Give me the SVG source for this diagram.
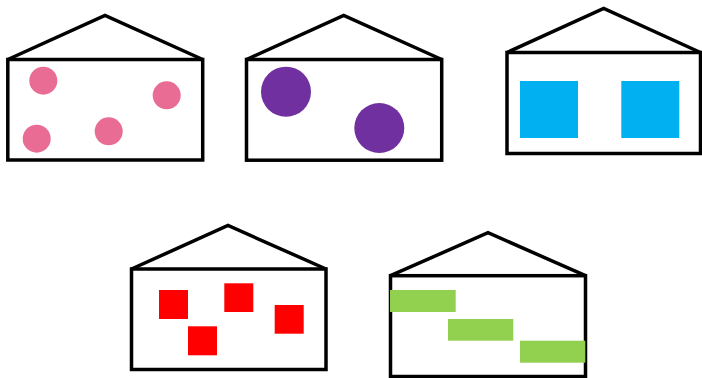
<svg xmlns="http://www.w3.org/2000/svg" width="702" height="378" viewBox="0 0 702 378">
<style>
.wall{fill:#fff;stroke:#000;stroke-width:3.5}
.roof{fill:none;stroke:#000;stroke-width:3.5;stroke-linejoin:miter}
.pink{fill:#E96C94}
.purple{fill:#7030A0}
.blue{fill:#00B0F0}
.red{fill:#FF0000}
.green{fill:#92D050}
</style>
<rect width="702" height="378" fill="#fff"/>
<g id="house1">
<polyline class="roof" points="7.8,59.5 105,15.5 202.7,59.5"/>
<rect class="wall" x="7.8" y="59.5" width="194.9" height="100.5"/>
<circle class="pink" cx="43.3" cy="80.7" r="14"/>
<circle class="pink" cx="166.7" cy="95.3" r="14"/>
<circle class="pink" cx="36.7" cy="138.7" r="14"/>
<circle class="pink" cx="108.7" cy="131.3" r="14"/>
</g>
<g id="house2">
<polyline class="roof" points="246.5,59.5 343.7,15.5 441.7,59.5"/>
<rect class="wall" x="246.5" y="59.5" width="195.2" height="100.7"/>
<circle class="purple" cx="286" cy="91.7" r="25"/>
<circle class="purple" cx="379.3" cy="128" r="25"/>
</g>
<g id="house3">
<polyline class="roof" points="507,52.5 603.7,8.5 700.5,52.5"/>
<rect class="wall" x="507" y="52.5" width="193.5" height="101"/>
<rect class="blue" x="520" y="81" width="58" height="57"/>
<rect class="blue" x="621.3" y="81" width="58" height="57"/>
</g>
<g id="house4">
<polyline class="roof" points="131.5,269 228,225.5 326,269"/>
<rect class="wall" x="131.5" y="269" width="194.5" height="100.5"/>
<rect class="red" x="159" y="290" width="29" height="29"/>
<rect class="red" x="224.3" y="283.3" width="29" height="28.7"/>
<rect class="red" x="274.7" y="305" width="29" height="28.7"/>
<rect class="red" x="188" y="326.3" width="29" height="29"/>
</g>
<g id="house5">
<polyline class="roof" points="390.5,275.7 488,232.7 585.5,275.7"/>
<rect class="wall" x="390.5" y="275.7" width="195" height="100.8"/>
<rect class="green" x="390" y="290" width="65.7" height="22"/>
<rect class="green" x="448" y="319" width="65.3" height="21.7"/>
<rect class="green" x="520" y="340.7" width="65.3" height="22"/>
</g>
<g id="connectors"></g>
</svg>
